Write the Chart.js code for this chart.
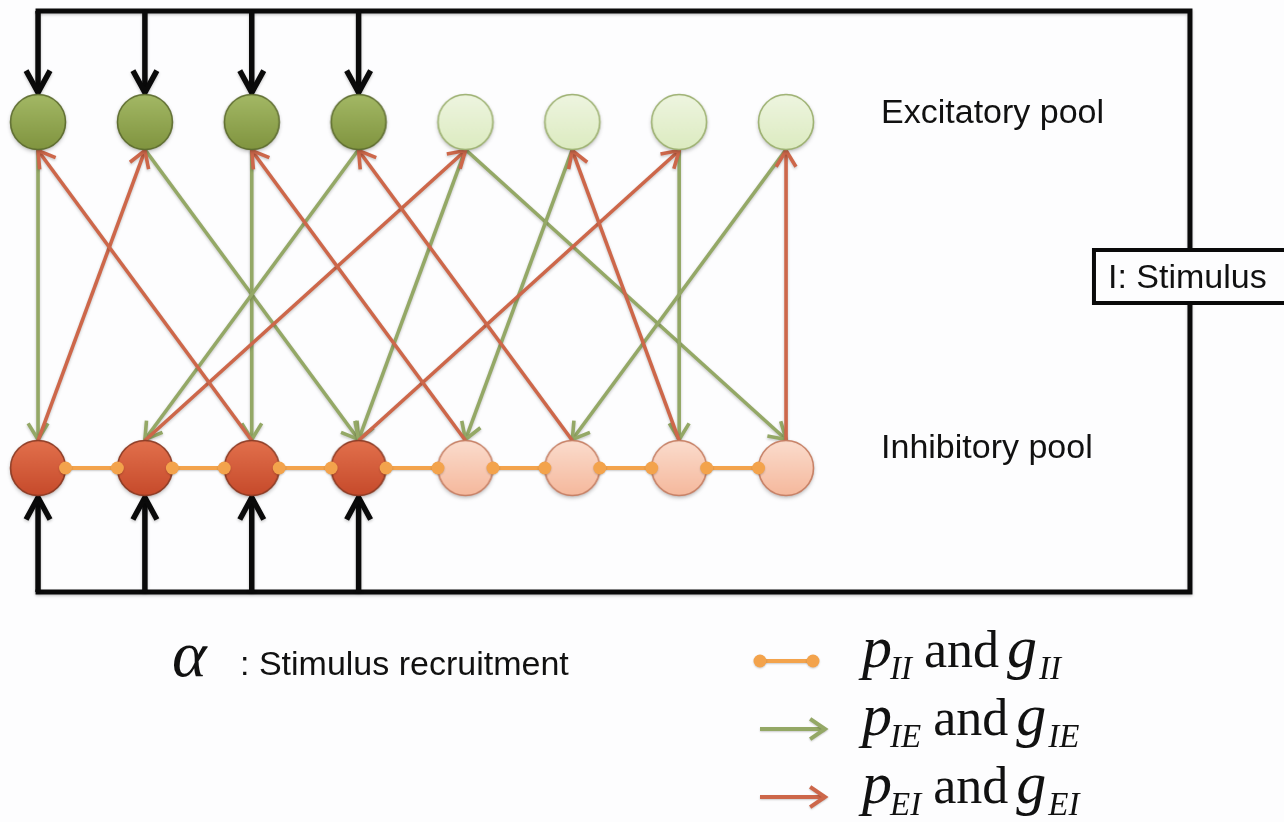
<!DOCTYPE html>
<html>
<head>
<meta charset="utf-8">
<script src="https://cdn.jsdelivr.net/npm/chart.js@4"></script>
<style>
  html, body { margin: 0; padding: 0; background: #fdfdfe; }
  canvas { display: block; }
</style>
</head>
<body>
<canvas id="net" width="1284" height="822"></canvas>
<script>
// neurons in each pool, and which ones get the stimulus
const neurons = [0, 1, 2, 3, 4, 5, 6, 7]
const recruited = [1, 1, 1, 1, 0, 0, 0, 0]
// pool levels on the y scale
const poolE = 1
const poolI = 0
const poolLabels = ["Excitatory pool", "Inhibitory pool"]
// connections: [source, target]
const edgesIE = [[0, 0], [1, 3], [2, 2], [3, 1], [4, 3], [4, 7], [5, 4], [6, 6], [7, 5]] // E -> I, green
const edgesEI = [[0, 1], [1, 4], [2, 0], [3, 6], [4, 2], [5, 3], [6, 5], [7, 7]] // I -> E, red
const edgesII = [[0, 1], [1, 2], [2, 3], [3, 4], [4, 5], [5, 6], [6, 7]] // I - I, orange
const stimulusX = 10.78
const legendRows = [
  { kind: "dot", color: "#f3a34c", sub: "II" },
  { kind: "arrow", color: "#94a866", sub: "IE" },
  { kind: "arrow", color: "#cd674a", sub: "EI" }
]

const R = 27.5
const GREEN = "#94a866"
const RED = "#cd674a"
const ORANGE = "#f3a34c"

function nodeSprite(top, bottom, stroke) {
  const c = document.createElement("canvas")
  c.width = 68
  c.height = 68
  const g = c.getContext("2d")
  const grad = g.createLinearGradient(0, 34 - R, 0, 34 + R)
  grad.addColorStop(0, top)
  grad.addColorStop(1, bottom)
  g.shadowColor = "rgba(0,0,0,0.3)"
  g.shadowBlur = 4
  g.shadowOffsetY = 2
  g.beginPath()
  g.arc(34, 34, R, 0, Math.PI * 2)
  g.fillStyle = grad
  g.fill()
  g.shadowColor = "transparent"
  g.lineWidth = 1.6
  g.strokeStyle = stroke
  g.stroke()
  return c
}

const sprites = {
  eOn: nodeSprite("#a3b865", "#80943f", "#5e6d30"),
  eOff: nodeSprite("#eef5e0", "#dcebc0", "#9cb070"),
  iOn: nodeSprite("#e2704c", "#c64a2b", "#8c3b24"),
  iOff: nodeSprite("#fbdccd", "#f5b89c", "#c67f64")
}

function pts(level, on) {
  return neurons.filter(i => !!recruited[i] === on).map(i => ({ x: i, y: level }))
}

function chevron(ctx, x1, y1, x2, y2, len, ang) {
  const a = Math.atan2(y2 - y1, x2 - x1)
  ctx.beginPath()
  ctx.moveTo(x2 - len * Math.cos(a - ang), y2 - len * Math.sin(a - ang))
  ctx.lineTo(x2, y2)
  ctx.lineTo(x2 - len * Math.cos(a + ang), y2 - len * Math.sin(a + ang))
  ctx.stroke()
}

function arrow(ctx, x1, y1, x2, y2, color, w, len, ang) {
  ctx.strokeStyle = color
  ctx.lineWidth = w
  ctx.beginPath()
  ctx.moveTo(x1, y1)
  ctx.lineTo(x2, y2)
  ctx.stroke()
  chevron(ctx, x1, y1, x2, y2, len, ang)
}

function dotLine(ctx, x1, x2, yy) {
  ctx.strokeStyle = ORANGE
  ctx.fillStyle = ORANGE
  ctx.lineWidth = 4
  ctx.beginPath()
  ctx.moveTo(x1, yy)
  ctx.lineTo(x2, yy)
  ctx.stroke()
  ;[x1, x2].forEach(px => {
    ctx.beginPath()
    ctx.arc(px, yy, 6.5, 0, Math.PI * 2)
    ctx.fill()
  })
}

const diagram = {
  id: "diagram",
  beforeDatasetsDraw(chart) {
    const { ctx, scales: { x, y } } = chart
    const yE = y.getPixelForValue(poolE)
    const yI = y.getPixelForValue(poolI)
    ctx.save()
    ctx.lineCap = "butt"
    ctx.lineJoin = "miter"
    ctx.shadowColor = "rgba(0,0,0,0.22)"
    ctx.shadowBlur = 3
    ctx.shadowOffsetY = 1.5

    edgesIE.forEach(([s, t]) => {
      arrow(ctx, x.getPixelForValue(s), yE + R, x.getPixelForValue(t), yI - R - 1, GREEN, 3.6, 19, 0.55)
    })
    edgesEI.forEach(([s, t]) => {
      arrow(ctx, x.getPixelForValue(s), yI - R, x.getPixelForValue(t), yE + R + 1, RED, 3.6, 19, 0.55)
    })

    // stimulus wiring
    const xr = x.getPixelForValue(stimulusX)
    const yTop = yE - 111
    const yBot = yI + 124
    const x0 = x.getPixelForValue(neurons[0])
    ctx.strokeStyle = "#0a0a0a"
    ctx.lineWidth = 5
    ctx.beginPath()
    ctx.moveTo(x0 - 2.5, yTop)
    ctx.lineTo(xr, yTop)
    ctx.lineTo(xr, yBot)
    ctx.lineTo(x0 - 2.5, yBot)
    ctx.stroke()
    neurons.filter(i => recruited[i]).forEach(i => {
      const px = x.getPixelForValue(i)
      arrow(ctx, px, yTop, px, yE - R - 2, "#0a0a0a", 5.5, 25, 0.5)
      arrow(ctx, px, yBot, px, yI + R + 2, "#0a0a0a", 5.5, 25, 0.5)
    })
    ctx.restore()
  },
  afterDatasetsDraw(chart) {
    const { ctx, scales: { x, y } } = chart
    const yI = y.getPixelForValue(poolI)
    ctx.save()
    ctx.shadowColor = "rgba(0,0,0,0.2)"
    ctx.shadowBlur = 2
    ctx.shadowOffsetY = 1
    edgesII.forEach(([a, b]) => {
      dotLine(ctx, x.getPixelForValue(a) + R, x.getPixelForValue(b) - R, yI)
    })
    ctx.restore()
  },
  afterDraw(chart) {
    const { ctx, scales: { x, y } } = chart
    const yE = y.getPixelForValue(poolE)
    const yI = y.getPixelForValue(poolI)
    const xr = x.getPixelForValue(stimulusX)
    const xl = x.getPixelForValue(neurons[neurons.length - 1]) + 95
    ctx.save()
    ctx.fillStyle = "#111"
    ctx.font = "34px 'Liberation Sans', Arial, sans-serif"
    ctx.textBaseline = "alphabetic"
    ctx.fillText(poolLabels[0], xl, yE + 1)
    ctx.fillText(poolLabels[1], xl, yI - 10)

    // stimulus box
    ctx.fillStyle = "#fdfdfe"
    ctx.fillRect(xr - 96, 250, 220, 53)
    ctx.strokeStyle = "#0a0a0a"
    ctx.lineWidth = 4
    ctx.strokeRect(xr - 96, 250, 220, 53)
    ctx.fillStyle = "#111"
    ctx.fillText("I: Stimulus", xr - 82, 288)

    // recruitment note
    ctx.font = "italic 66px 'Liberation Serif', 'Times New Roman', serif"
    ctx.fillText("\u03b1", 172, 676)
    ctx.font = "34px 'Liberation Sans', Arial, sans-serif"
    ctx.fillText(": Stimulus recruitment", 240, 675)

    // connection legend
    legendRows.forEach((row, k) => {
      const base = 667 + k * 68
      const ly = base - 6
      ctx.save()
      ctx.shadowColor = "rgba(0,0,0,0.2)"
      ctx.shadowBlur = 2
      ctx.shadowOffsetY = 1
      if (row.kind === "dot") dotLine(ctx, 760, 813, ly)
      else arrow(ctx, 760, ly, 825, ly, row.color, 4, 18, 0.6)
      ctx.restore()
      ctx.fillStyle = "#111"
      let px = 862
      ctx.font = "italic 60px 'Liberation Serif', 'Times New Roman', serif"
      ctx.fillText("p", px, base)
      px += ctx.measureText("p").width - 2
      ctx.font = "italic 33px 'Liberation Serif', 'Times New Roman', serif"
      ctx.fillText(row.sub, px, base + 12)
      px += ctx.measureText(row.sub).width + 12
      ctx.font = "52px 'Liberation Serif', 'Times New Roman', serif"
      ctx.fillText("and", px, base)
      px += ctx.measureText("and").width + 8
      ctx.font = "italic 60px 'Liberation Serif', 'Times New Roman', serif"
      ctx.fillText("g", px, base)
      px += ctx.measureText("g").width + 2
      ctx.font = "italic 33px 'Liberation Serif', 'Times New Roman', serif"
      ctx.fillText(row.sub, px, base + 12)
    })
    ctx.restore()
  }
}

new Chart(document.getElementById("net"), {
  type: "scatter",
  data: {
    datasets: [
      { label: "E recruited", data: pts(poolE, true), pointStyle: sprites.eOn },
      { label: "E", data: pts(poolE, false), pointStyle: sprites.eOff },
      { label: "I recruited", data: pts(poolI, true), pointStyle: sprites.iOn },
      { label: "I", data: pts(poolI, false), pointStyle: sprites.iOff }
    ]
  },
  options: {
    responsive: false,
    devicePixelRatio: 1,
    animation: false,
    layout: { padding: 0, autoPadding: false },
    elements: { point: { radius: 28, hoverRadius: 28 } },
    scales: {
      x: { type: "linear", min: -0.356, max: 11.66, display: false },
      y: { type: "linear", min: -1.023, max: 1.3526, display: false }
    },
    plugins: { legend: { display: false }, tooltip: { enabled: false } }
  },
  plugins: [diagram]
})
</script>
</body>
</html>
